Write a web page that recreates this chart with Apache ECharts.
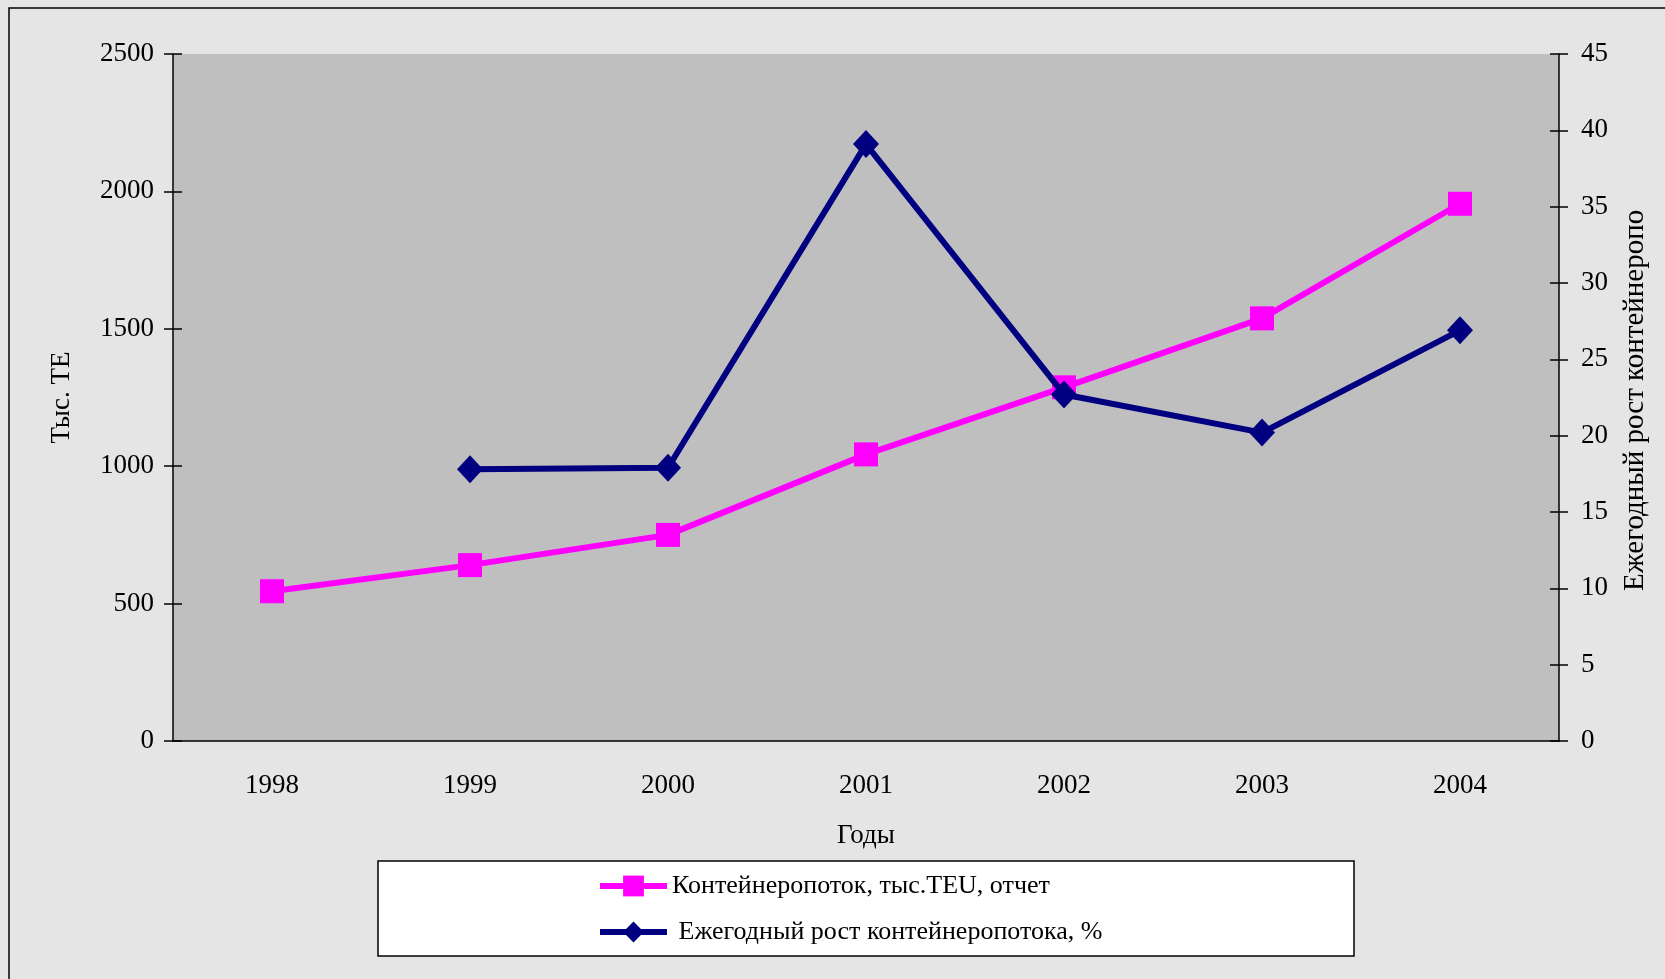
<!DOCTYPE html>
<html>
<head>
<meta charset="utf-8">
<script src="https://cdn.jsdelivr.net/npm/echarts@6/dist/echarts.min.js"></script>
<style>
  html, body { margin: 0; padding: 0; background: #e4e4e4; }
  #chart { width: 1665px; height: 979px; }
</style>
</head>
<body>
<div id="chart"></div>
<script>
  const years = ['1998', '1999', '2000', '2001', '2002', '2003', '2004'];
  // Контейнеропоток, тыс.TEU
  const teuValues = [545, 640, 750, 1043, 1287, 1538, 1955];
  // Ежегодный рост, %
  const growthValues = [null, 17.8, 17.9, 39.1, 22.7, 20.2, 26.9];

  const teuName = 'Контейнеропоток, тыс.TEU, отчет';
  const growthName = 'Ежегодный рост контейнеропотока, %';

  const font = '"Liberation Serif", "Times New Roman", serif';

  const myChart = echarts.init(document.getElementById('chart'));

  const option = {
    backgroundColor: '#e5e5e5',
    textStyle: { fontFamily: font, color: '#000' },
    graphic: [
      {
        type: 'rect',
        z: -10,
        shape: { x: 9, y: 8, width: 1700, height: 1000 },
        style: { fill: 'none', stroke: '#000', lineWidth: 1.5 }
      },
      {
        type: 'rect',
        z: -5,
        shape: { x: 378, y: 861, width: 976, height: 95 },
        style: { fill: '#fff', stroke: '#000', lineWidth: 1.5 }
      },
      {
        // название правой оси, обрезано сверху как в оригинале:
        // переносим по ширине и оставляем только первую строку
        // (zrender считает кириллицу широкими символами, поэтому ширина завышена)
        type: 'text',
        x: 1635,
        y: 591,
        rotation: Math.PI / 2,
        style: {
          text: growthName,
          font: '29px ' + font,
          fill: '#000',
          align: 'left',
          verticalAlign: 'middle',
          width: 752,
          height: 32,
          overflow: 'breakAll',
          lineOverflow: 'truncate'
        }
      }
    ],
    grid: {
      left: 173,
      top: 54,
      right: 106,
      bottom: 238,
      show: true,
      backgroundColor: '#bfbfbf',
      borderWidth: 0
    },
    legend: {
      data: [teuName, growthName],
      orient: 'vertical',
      left: 597,
      top: 873,
      padding: 0,
      itemGap: 20,
      itemWidth: 67,
      itemHeight: 26,
      lineStyle: { width: 6 },
      formatter: (name) => (name === growthName ? ' ' + name : name),
      textStyle: { fontFamily: font, fontSize: 26, color: '#000' }
    },
    xAxis: [
      {
        type: 'category',
        data: years,
        boundaryGap: true,
        name: 'Годы',
        nameLocation: 'middle',
        nameGap: 81,
        nameTextStyle: { fontFamily: font, fontSize: 27, color: '#000' },
        axisLine: { lineStyle: { color: '#000', width: 1.5 } },
        axisTick: { length: 9, interval: 0, lineStyle: { color: '#000', width: 1.5 } },
        axisLabel: { fontFamily: font, fontSize: 27, color: '#000', margin: 31, interval: 0 },
        splitLine: { show: false }
      },
      {
        type: 'category',
        data: years,
        boundaryGap: true,
        position: 'bottom',
        axisLine: { show: false },
        axisTick: { inside: true, length: 9, interval: 0, lineStyle: { color: '#000', width: 1.5 } },
        axisLabel: { show: false },
        splitLine: { show: false }
      }
    ],
    yAxis: [
      {
        type: 'value',
        position: 'left',
        min: 0,
        max: 2500,
        interval: 500,
        name: 'Тыс. ТЕ',
        nameLocation: 'middle',
        nameRotate: 90,
        nameGap: 98,
        nameTextStyle: { fontFamily: font, fontSize: 27, color: '#000' },
        axisLine: { show: true, lineStyle: { color: '#000', width: 1.5 } },
        axisTick: { show: true, length: 9, lineStyle: { color: '#000', width: 1.5 } },
        axisLabel: {
          fontFamily: font, fontSize: 27, color: '#000', margin: 19,
          formatter: (v) => String(v)
        },
        splitLine: { show: false }
      },
      {
        type: 'value',
        position: 'right',
        min: 0,
        max: 45,
        interval: 5,
        axisLine: { show: true, lineStyle: { color: '#000', width: 1.5 } },
        axisTick: { show: true, length: 9, lineStyle: { color: '#000', width: 1.5 } },
        axisLabel: { fontFamily: font, fontSize: 27, color: '#000', margin: 22 },
        splitLine: { show: false }
      },
      {
        type: 'value',
        position: 'left',
        min: 0,
        max: 2500,
        interval: 500,
        axisLine: { show: false },
        axisTick: { show: true, inside: true, length: 9, lineStyle: { color: '#000', width: 1.5 } },
        axisLabel: { show: false },
        splitLine: { show: false }
      },
      {
        type: 'value',
        position: 'right',
        min: 0,
        max: 45,
        interval: 5,
        axisLine: { show: false },
        axisTick: { show: true, inside: true, length: 9, lineStyle: { color: '#000', width: 1.5 } },
        axisLabel: { show: false },
        splitLine: { show: false }
      }
    ],
    series: [
      {
        name: teuName,
        type: 'line',
        xAxisIndex: 0,
        yAxisIndex: 0,
        data: teuValues,
        symbol: 'rect',
        symbolSize: 24,
        lineStyle: { color: '#ff00ff', width: 6 },
        itemStyle: { color: '#ff00ff' },
        z: 3
      },
      {
        name: growthName,
        type: 'line',
        xAxisIndex: 0,
        yAxisIndex: 1,
        data: growthValues,
        symbol: 'diamond',
        symbolSize: [26, 28],
        lineStyle: { color: '#000080', width: 6 },
        itemStyle: { color: '#000080' },
        z: 4
      }
    ]
  };

  myChart.setOption(option);
</script>
</body>
</html>
